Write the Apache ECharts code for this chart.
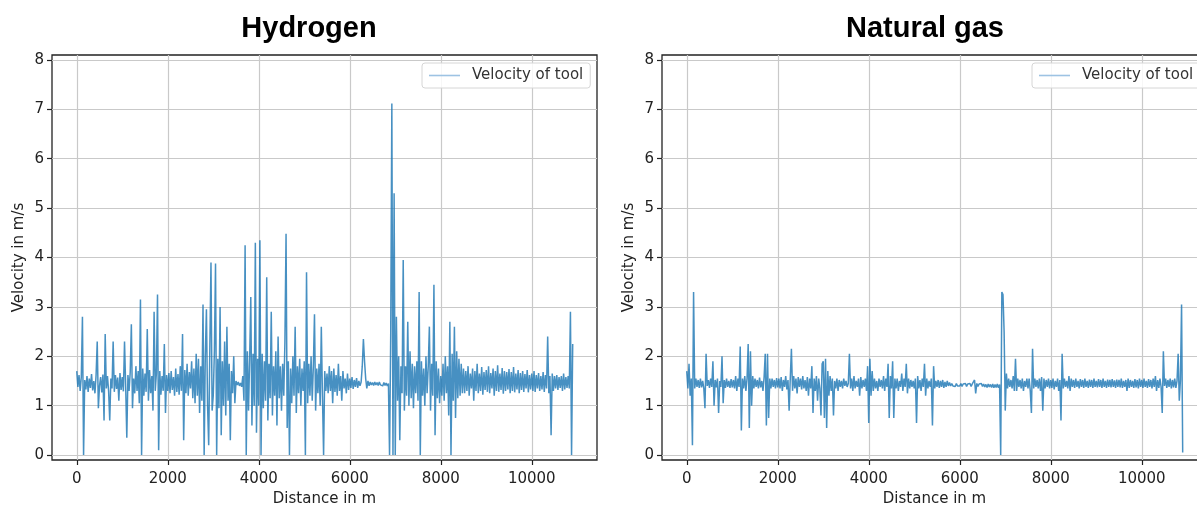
<!DOCTYPE html>
<html>
<head>
<meta charset="utf-8">
<script src="https://cdn.jsdelivr.net/npm/echarts@6/dist/echarts.min.js"></script>
<style>
  html, body { margin: 0; padding: 0; background: #fff; overflow: hidden; }
  #chart { width: 1197px; height: 505px; }
</style>
</head>
<body>
<div id="chart"></div>
<script>
// ---- data (velocity in m/s, sampled every 25 m of distance) ----
const panelTitles = ['Hydrogen', 'Natural gas'];
const seriesName = 'Velocity of tool';
const distanceStepM = 25;
const xTickValues = [0, 2000, 4000, 6000, 8000, 10000];
const yTickValues = [0, 1, 2, 3, 4, 5, 6, 7, 8];

const hydrogenVelocity = [
  1.70,1.38,1.62,1.30,1.58,2.80,0.00,1.52,1.33,1.60,1.28,1.55,1.36,1.64,1.31,1.50,1.25,1.62,2.30,0.95,
  1.40,1.58,1.27,1.63,0.70,2.45,1.35,1.60,1.30,0.70,1.55,1.35,2.30,1.28,1.62,1.34,1.57,1.10,1.66,1.32,
  1.58,1.29,2.30,1.40,0.35,1.62,1.30,1.68,2.65,0.95,1.55,1.25,1.80,1.30,1.70,1.05,3.15,0.00,1.75,1.20,
  1.65,1.28,2.55,1.10,1.72,1.25,1.60,0.90,2.90,1.30,1.65,3.25,0.10,1.70,1.22,1.60,1.30,2.25,0.85,1.62,
  1.30,1.66,1.25,1.70,1.32,1.58,1.20,1.75,1.28,1.64,1.22,1.80,1.30,2.45,0.30,1.72,1.25,1.85,1.20,1.68,
  1.35,1.90,1.15,1.75,1.05,2.05,1.20,1.95,0.85,1.80,1.10,3.05,0.00,2.00,2.95,1.00,0.20,2.20,3.90,0.90,
  1.20,2.10,3.88,0.00,1.95,0.95,3.00,0.40,1.90,1.00,2.30,0.80,2.60,1.10,1.85,0.30,1.70,1.25,2.00,1.05,
  1.50,1.42,1.48,1.40,1.46,1.38,1.60,1.10,4.25,0.00,2.10,0.90,1.95,3.20,0.60,2.05,1.00,4.30,0.45,1.95,
  1.00,4.35,0.00,2.05,0.95,1.90,1.10,3.60,0.70,1.85,1.15,2.90,0.80,1.80,1.20,2.10,0.60,2.40,1.15,1.80,
  0.90,1.85,1.20,2.30,4.48,0.55,1.90,0.00,1.75,1.05,2.00,1.20,2.60,0.85,1.80,1.25,1.95,1.00,1.75,1.30,
  1.90,0.00,3.70,1.05,1.85,1.20,2.00,1.10,1.80,2.85,0.90,1.75,1.25,1.85,1.00,2.60,1.20,0.00,1.70,1.30,
  1.65,1.25,1.80,1.30,1.70,1.05,1.75,1.28,1.62,1.20,1.85,1.30,1.60,1.10,1.70,1.35,1.55,1.25,1.65,1.32,
  1.55,1.36,1.58,1.34,1.52,1.38,1.56,1.36,1.50,1.40,1.48,1.80,2.35,1.90,1.55,1.35,1.50,1.40,1.48,1.42,
  1.47,1.41,1.48,1.42,1.47,1.41,1.48,1.42,1.46,1.40,1.47,1.41,1.46,1.40,1.45,0.00,2.40,7.12,0.00,5.30,
  0.00,2.80,1.10,2.00,0.30,1.80,1.25,3.95,0.90,1.80,1.20,2.70,1.00,2.10,1.15,1.85,0.95,1.80,1.25,1.90,
  1.10,3.30,0.00,1.90,1.20,1.75,1.00,2.00,1.25,1.80,2.60,0.90,1.85,1.20,3.45,0.40,1.90,1.15,1.75,1.05,
  1.60,1.20,1.85,1.10,2.00,1.25,1.80,0.80,2.70,0.00,2.05,1.10,2.60,0.75,2.10,1.15,1.95,1.20,1.85,1.25,
  1.75,1.25,1.70,1.30,1.80,1.20,1.65,1.35,1.75,1.10,1.70,1.30,1.85,1.25,1.65,1.30,1.78,1.22,1.68,1.32,
  1.72,1.28,1.80,1.25,1.66,1.35,1.75,1.20,1.70,1.30,1.82,1.28,1.65,1.32,1.76,1.24,1.70,1.30,1.68,1.33,
  1.74,1.25,1.68,1.30,1.78,1.27,1.65,1.33,1.72,1.25,1.66,1.32,1.70,1.28,1.64,1.35,1.72,1.27,1.62,1.33,
  1.65,1.30,1.70,1.28,1.62,1.35,1.66,1.30,1.60,1.33,1.68,1.28,1.62,1.35,2.40,1.25,1.60,0.40,1.65,1.30,
  1.60,1.35,1.62,1.32,1.58,1.36,1.60,1.30,1.65,1.33,1.58,1.36,1.60,1.35,2.90,0.00,2.25
];

const naturalGasVelocity = [
  1.70,1.35,1.85,1.20,1.55,0.20,3.30,1.35,1.55,1.38,1.52,1.36,1.55,1.37,1.50,1.35,0.95,2.05,1.40,1.52,
  1.36,1.55,1.38,1.90,1.00,1.52,1.37,1.55,0.85,1.50,1.38,2.00,1.05,1.52,1.36,1.55,1.38,1.50,1.36,1.54,
  1.37,1.52,1.35,1.60,1.30,1.55,1.38,2.20,0.50,1.55,1.35,1.60,1.30,1.55,2.25,0.55,2.10,1.00,1.60,1.35,
  1.55,1.38,1.52,1.35,1.57,1.37,1.50,1.30,1.58,2.05,0.60,2.05,0.75,1.55,1.35,1.55,1.38,1.52,1.35,1.56,
  1.37,1.55,1.35,1.58,1.30,1.52,1.38,1.60,1.33,1.52,0.90,1.55,2.15,1.30,1.60,1.35,1.55,1.25,1.58,1.38,
  1.55,1.33,1.60,1.35,1.52,1.30,1.58,1.20,1.55,1.35,1.80,0.85,1.55,1.30,1.60,1.10,1.55,1.35,0.80,1.85,
  1.90,0.75,1.95,0.55,1.70,1.20,1.60,1.30,1.55,0.80,1.50,1.35,1.55,1.30,1.52,1.38,1.50,1.35,1.55,1.40,
  1.50,1.38,1.45,2.05,1.35,1.55,1.30,1.60,1.35,1.50,1.38,1.55,1.20,1.58,1.35,1.52,1.38,1.55,1.30,1.80,
  0.65,1.95,1.20,1.70,1.30,1.55,1.35,1.50,1.30,1.55,1.38,1.52,1.35,1.60,1.30,1.55,1.38,1.85,0.75,1.60,
  1.35,1.90,0.75,1.55,1.35,1.55,1.30,1.50,1.38,1.65,1.30,1.55,1.38,1.85,1.25,1.55,1.35,1.52,1.38,1.50,
  1.35,1.55,0.65,1.60,1.35,1.52,1.30,1.55,1.38,1.85,1.20,1.55,1.35,1.50,1.38,1.55,0.60,1.80,1.35,1.50,
  1.38,1.52,1.36,1.50,1.38,1.52,1.36,1.48,1.38,1.50,1.40,1.47,1.40,1.45,1.40,1.44,1.39,1.45,1.40,1.44,
  1.40,1.45,1.39,1.44,1.40,1.45,1.39,1.44,1.40,1.45,1.39,1.44,1.40,1.52,1.25,1.45,1.39,1.44,1.40,1.45,
  1.39,1.44,1.38,1.43,1.37,1.44,1.38,1.43,1.37,1.44,1.36,1.43,1.37,1.44,1.36,1.43,0.00,3.30,3.25,2.50,
  0.90,1.65,1.35,1.55,1.38,1.52,1.35,1.60,1.30,1.95,1.30,1.55,1.38,1.52,1.35,1.55,1.30,1.50,1.38,1.55,
  1.35,1.55,1.30,0.85,2.15,1.35,1.55,1.38,1.52,1.35,1.55,1.30,1.58,0.90,1.55,1.35,1.52,1.38,1.55,1.35,
  1.52,1.36,1.55,1.33,1.50,1.38,1.55,1.30,1.52,0.70,2.05,1.35,1.55,1.38,1.50,1.35,1.60,1.30,1.55,1.38,
  1.52,1.36,1.55,1.38,1.50,1.35,1.54,1.38,1.52,1.36,1.55,1.38,1.50,1.36,1.53,1.38,1.52,1.36,1.55,1.38,
  1.50,1.37,1.54,1.38,1.52,1.36,1.55,1.38,1.50,1.36,1.53,1.38,1.52,1.37,1.54,1.38,1.51,1.36,1.53,1.38,
  1.52,1.37,1.55,1.36,1.50,1.38,1.52,1.30,1.55,1.36,1.52,1.38,1.50,1.36,1.54,1.37,1.52,1.35,1.55,1.38,
  1.52,1.36,1.55,1.38,1.50,1.36,1.54,1.38,1.52,1.35,1.55,1.38,1.60,1.30,1.52,1.36,1.55,1.38,0.85,2.10,
  1.40,1.55,1.36,1.52,1.38,1.55,1.35,1.52,1.37,1.55,1.36,1.50,2.05,1.10,1.52,3.05,0.05
];

// ---- chart ----
const FONT = '"DejaVu Sans", sans-serif';
const TXT = '#222';
const LINE = '#1f77b4';

function toPairs(values) {
  return values.map((v, i) => [i * distanceStepM, v]);
}

const gridDefs = [
  { left: 52, top: 55, width: 545, height: 405 },
  { left: 662, top: 55, width: 545, height: 405 }
];

function xAxisFor(idx) {
  return {
    type: 'value', gridIndex: idx, min: -544, max: 11434, position: 'bottom',
    name: 'Distance in m', nameLocation: 'middle', nameGap: 31,
    nameTextStyle: { fontFamily: FONT, fontSize: 15, color: TXT },
    axisLine: { show: false, onZero: false },
    axisTick: { show: true, length: 5, customValues: xTickValues, lineStyle: { color: '#222', width: 1.2 } },
    axisLabel: { show: true, customValues: xTickValues, margin: 12, fontFamily: FONT, fontSize: 15, color: TXT,
                 formatter: v => String(v) },
    splitLine: { show: true, lineStyle: { color: '#c9c9c9', width: 1.2 } }
  };
}
function yAxisFor(idx) {
  return {
    type: 'value', gridIndex: idx, min: -0.1, max: 8.1, position: 'left',
    name: 'Velocity in m/s', nameLocation: 'middle', nameGap: 25, nameRotate: 90,
    nameTextStyle: { fontFamily: FONT, fontSize: 15, color: TXT },
    axisLine: { show: false, onZero: false },
    axisTick: { show: true, length: 5, customValues: yTickValues, lineStyle: { color: '#222', width: 1.2 } },
    axisLabel: { show: true, customValues: yTickValues, margin: 8, fontFamily: FONT, fontSize: 15, color: TXT },
    splitLine: { show: true, lineStyle: { color: '#c9c9c9', width: 1.2 } }
  };
}

function legendFor(left) {
  return {
    left: left, top: 63, orient: 'horizontal',
    data: [seriesName],
    icon: 'rect', itemWidth: 31, itemHeight: 1.6,
    itemStyle: { color: '#9dc3e3', opacity: 1 },
    padding: [5, 7, 5, 7],
    borderColor: '#d6d6d6', borderWidth: 1, borderRadius: 3,
    backgroundColor: 'rgba(255,255,255,0.85)',
    selectedMode: false,
    textStyle: { fontFamily: FONT, fontSize: 15, color: '#333', padding: [0, 0, 0, 7] }
  };
}

const chart = echarts.init(document.getElementById('chart'), null, { renderer: 'canvas' });
chart.setOption({
  animation: false,
  backgroundColor: '#fff',
  grid: gridDefs.map(g => Object.assign({ show: true, borderColor: '#222', borderWidth: 1.3, backgroundColor: 'transparent', containLabel: false, outerBoundsMode: 'none' }, g)),
  xAxis: [xAxisFor(0), xAxisFor(1)],
  yAxis: [yAxisFor(0), yAxisFor(1)],
  legend: [legendFor(422), legendFor(1032)],
  graphic: [
    { type: 'text', x: 309, y: 29, style: { text: panelTitles[0], fontFamily: '"Liberation Sans", Arial, sans-serif', fontWeight: 'bold', fontSize: 29, fill: '#000', textAlign: 'center', textVerticalAlign: 'middle' } },
    { type: 'text', x: 925, y: 29, style: { text: panelTitles[1], fontFamily: '"Liberation Sans", Arial, sans-serif', fontWeight: 'bold', fontSize: 29, fill: '#000', textAlign: 'center', textVerticalAlign: 'middle' } }
  ],
  series: [
    { name: seriesName, type: 'line', xAxisIndex: 0, yAxisIndex: 0, data: toPairs(hydrogenVelocity), symbol: 'none', showSymbol: false, lineStyle: { color: LINE, width: 1.5, opacity: 0.82 }, itemStyle: { color: LINE } },
    { name: seriesName, type: 'line', xAxisIndex: 1, yAxisIndex: 1, data: toPairs(naturalGasVelocity), symbol: 'none', showSymbol: false, lineStyle: { color: LINE, width: 1.5, opacity: 0.82 }, itemStyle: { color: LINE } }
  ]
});
</script>
</body>
</html>
